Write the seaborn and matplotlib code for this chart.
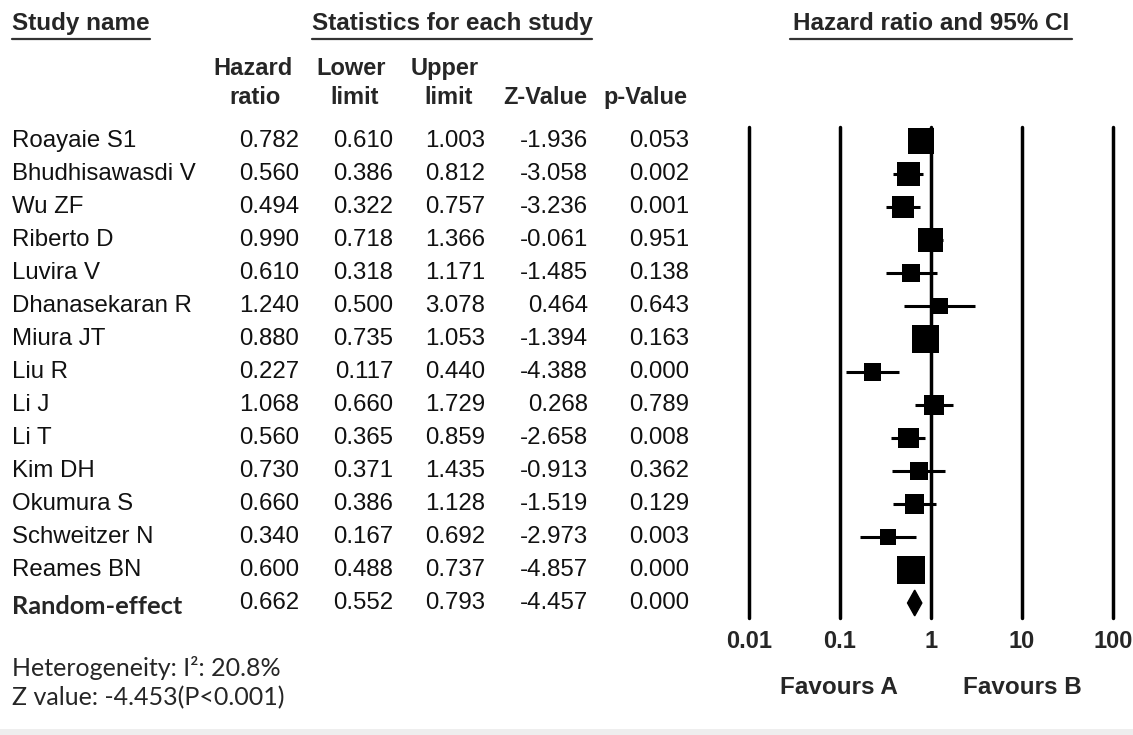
import numpy as np
import pandas as pd
import matplotlib
matplotlib.use("Agg")
import matplotlib.pyplot as plt
from matplotlib.patches import Polygon, Rectangle
import seaborn as sns

# Dados do forest plot
studies = ["Roayaie S1", "Bhudhisawasdi V", "Wu ZF", "Riberto D", "Luvira V",
           "Dhanasekaran R", "Miura JT", "Liu R", "Li J", "Li T", "Kim DH",
           "Okumura S", "Schweitzer N", "Reames BN"]
hr = [0.782, 0.560, 0.494, 0.990, 0.610, 1.240, 0.880, 0.227, 1.068, 0.560,
      0.730, 0.660, 0.340, 0.600]
lower = [0.610, 0.386, 0.322, 0.718, 0.318, 0.500, 0.735, 0.117, 0.660, 0.365,
         0.371, 0.386, 0.167, 0.488]
upper = [1.003, 0.812, 0.757, 1.366, 1.171, 3.078, 1.053, 0.440, 1.729, 0.859,
         1.435, 1.128, 0.692, 0.737]
z_val = [-1.936, -3.058, -3.236, -0.061, -1.485, 0.464, -1.394, -4.388, 0.268,
         -2.658, -0.913, -1.519, -2.973, -4.857]
p_val = [0.053, 0.002, 0.001, 0.951, 0.138, 0.643, 0.163, 0.000, 0.789, 0.008,
         0.362, 0.129, 0.003, 0.000]
# peso relativo estimado (tamanho dos quadrados)
weights = [10.4, 8.2, 7.5, 9.6, 5.0, 4.0, 11.3, 4.5, 6.2, 6.8, 5.0, 5.6, 4.0, 12.1]

pooled_name = "Random-effect"
pooled = [0.662, 0.552, 0.793, -4.457, 0.000]

xticks = [0.01, 0.1, 1, 10, 100]
xtick_labels = ["0.01", "0.1", "1", "10", "100"]

sns.set_theme(style="white")
plt.rcParams["font.family"] = ["Liberation Sans", "DejaVu Sans"]

df = pd.DataFrame({"study": studies, "hr": hr, "lower": lower, "upper": upper,
                   "weight": weights})
df["row"] = np.arange(len(df))
pooled_row = len(df)

W, H = 1133, 735
fig = plt.figure(figsize=(W / 100, H / 100), dpi=100)

# eixo de texto em pixels
ax_txt = fig.add_axes([0, 0, 1, 1])
ax_txt.set_xlim(0, W)
ax_txt.set_ylim(H, 0)
ax_txt.axis("off")

# eixo do forest plot
top_px, bot_px = 127, 618
left_px, right_px = 749, 1113
row0_px, row_step = 141, 33.0
ax = fig.add_axes([left_px / W, (H - bot_px) / H, (right_px - left_px) / W,
                   (bot_px - top_px) / H])
ax.set_xscale("log")
ax.set_xlim(0.01, 100)
ax.set_ylim((bot_px - row0_px) / row_step, (top_px - row0_px) / row_step)
for s in ax.spines.values():
    s.set_visible(False)
ax.patch.set_alpha(0)

for t in xticks:
    ax.axvline(t, color="black", lw=2.5, clip_on=False, zorder=1)

ax.hlines(df["row"], df["lower"], df["upper"], color="black", lw=2.2, zorder=2)
sns.scatterplot(data=df, x="hr", y="row", size="weight",
                sizes=(33.6 * 4.0, 33.6 * 12.1), size_norm=(4.0, 12.1),
                marker="s", color="black", edgecolor="black", linewidth=0,
                legend=False, ax=ax, zorder=3)

# diamante do efeito combinado
dh = 0.39
diamond = Polygon([(pooled[1], pooled_row), (pooled[0], pooled_row - dh),
                   (pooled[2], pooled_row), (pooled[0], pooled_row + dh)],
                  closed=True, color="black", zorder=3)
ax.add_patch(diamond)

ax.set_xticks(xticks)
ax.set_xticklabels(xtick_labels, fontsize=17, fontweight="bold")
ax.xaxis.set_minor_locator(matplotlib.ticker.NullLocator())
ax.tick_params(axis="x", length=0, pad=9)
ax.set_yticks([])
ax.set_xlabel("")
ax.set_ylabel("")
ax.grid(False)

# cabecalhos
hdr = dict(fontsize=17.5, fontweight="bold", va="center")
ax_txt.text(12, 23, "Study name", ha="left", **hdr)
ax_txt.text(452, 23, "Statistics for each study", ha="center", **hdr)
ax_txt.text(931, 23, "Hazard ratio and 95% CI", ha="center", **hdr)
for x0, x1 in [(12, 150), (312, 592), (790, 1072)]:
    ax_txt.plot([x0, x1], [39, 39], color="#333333", lw=1.6)

col_hdr = dict(fontsize=17, fontweight="bold", va="center", ha="center")
ax_txt.text(253, 68, "Hazard", **col_hdr)
ax_txt.text(255, 97, "ratio", **col_hdr)
ax_txt.text(351, 68, "Lower", **col_hdr)
ax_txt.text(355, 97, "limit", **col_hdr)
ax_txt.text(445, 68, "Upper", **col_hdr)
ax_txt.text(449, 97, "limit", **col_hdr)
ax_txt.text(545, 97, "Z-Value", **col_hdr)
ax_txt.text(645, 97, "p-Value", **col_hdr)

# tabela
col_right = [299, 393, 485, 588, 689]
cell = dict(fontsize=17.3, va="center", ha="right", color="#111111")
for i in range(len(studies)):
    y = row0_px + row_step * i
    ax_txt.text(12, y, studies[i], ha="left", va="center", fontsize=17.3,
                color="#111111")
    vals = [hr[i], lower[i], upper[i], z_val[i], p_val[i]]
    for xr, v in zip(col_right, vals):
        ax_txt.text(xr, y, f"{v:.3f}", **cell)

y = row0_px + row_step * pooled_row
ax_txt.text(12, y + 3, pooled_name, ha="left", va="center", fontsize=18.3,
            fontweight="bold", family=["Lato", "DejaVu Sans"])
for xr, v in zip(col_right, pooled):
    ax_txt.text(xr, y, f"{v:.3f}", **cell)

# rodape
ax_txt.text(839, 688, "Favours A", ha="center", va="center", fontsize=17.5,
            fontweight="bold")
ax_txt.text(1022, 688, "Favours B", ha="center", va="center", fontsize=17.5,
            fontweight="bold")
ax_txt.text(12, 668, "Heterogeneity: I\u00b2: 20.8%", ha="left", va="center",
            fontsize=18, family=["Lato", "DejaVu Sans"])
ax_txt.text(12, 698, "Z value: -4.453(P<0.001)", ha="left", va="center",
            fontsize=18, family=["Lato", "DejaVu Sans"])
ax_txt.add_patch(Rectangle((0, 729), W, 6, color="#eeeeee", lw=0))

fig.savefig("out.png", dpi=100)
plt.close(fig)
